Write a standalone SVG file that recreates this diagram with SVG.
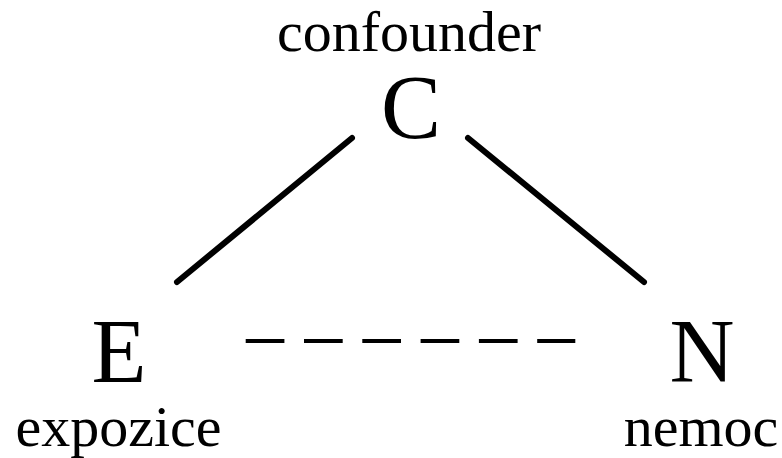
<svg xmlns="http://www.w3.org/2000/svg" width="782" height="458" viewBox="0 0 782 458">
<style>
text{font-family:"Liberation Serif","Times New Roman",serif;fill:#000}
.big{font-size:90px}
.lab{font-size:58px}
.edge{stroke:#000;stroke-width:6;stroke-linecap:round;fill:none}
.dash{stroke:#000;stroke-width:4;stroke-dasharray:38.7 19.6;fill:none}
</style>
<rect width="782" height="458" fill="#fff"/>
<g id="connectors">
<line class="edge" x1="352" y1="138" x2="177" y2="282"/>
<line class="edge" x1="468" y1="138" x2="644" y2="282"/>
<line class="dash" x1="245.7" y1="341" x2="575.3" y2="341"/>
</g>
<g id="C">
<text class="lab" x="409" y="51" text-anchor="middle">confounder</text>
<text class="big" x="411" y="138" text-anchor="middle">C</text>
</g>
<g id="E">
<text class="big" x="119" y="382" text-anchor="middle">E</text>
<text class="lab" x="118.5" y="446" text-anchor="middle">expozice</text>
</g>
<g id="N">
<text class="big" x="702" y="382" text-anchor="middle">N</text>
<text class="lab" x="701" y="446" text-anchor="middle">nemoc</text>
</g>
</svg>
